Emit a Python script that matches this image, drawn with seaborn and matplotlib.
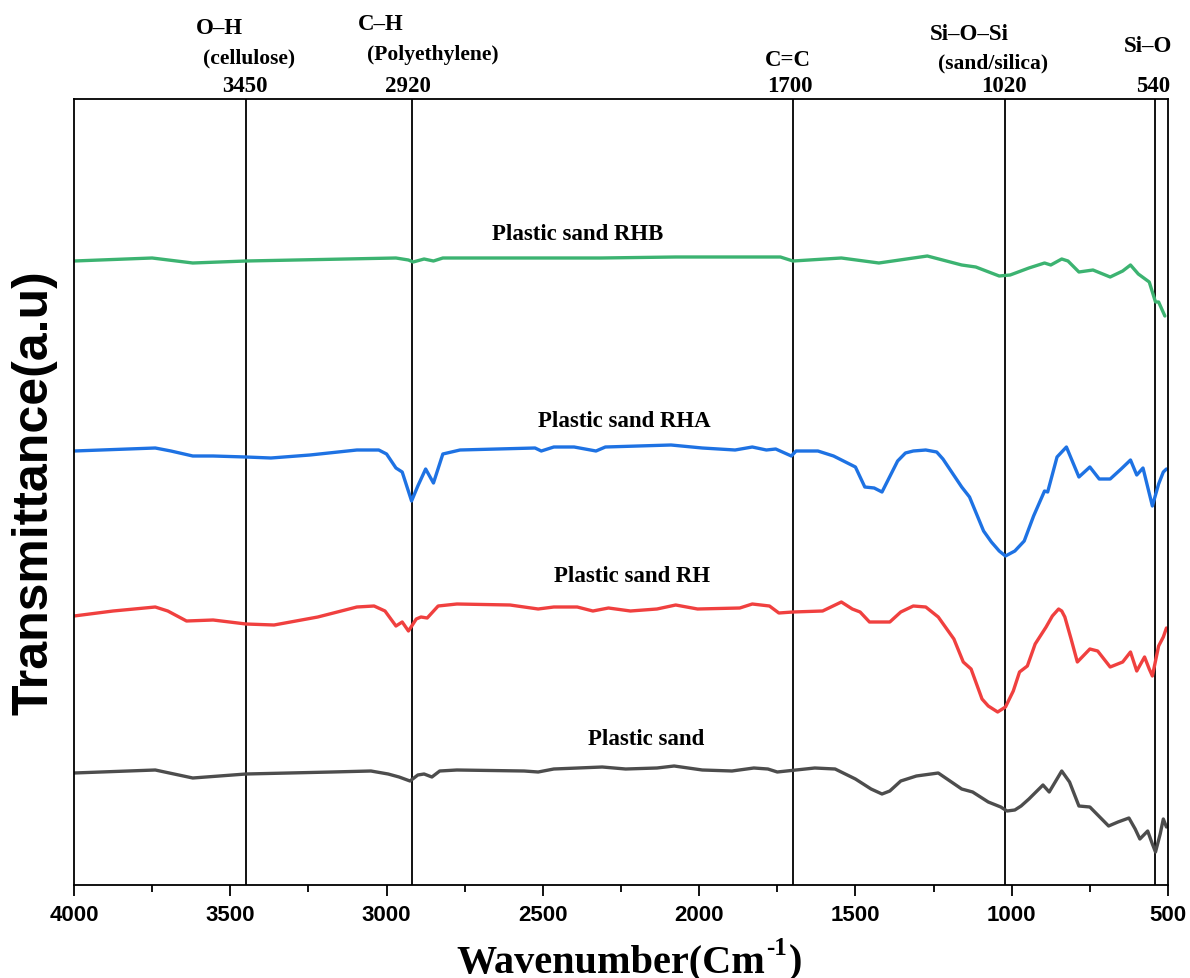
import numpy as np
import pandas as pd
import matplotlib
matplotlib.use("Agg")
import matplotlib.pyplot as plt
import seaborn as sns

# ---------------- data ----------------
rhb_wn = [4000, 3750, 3620, 3450, 2970, 2930, 2915, 2880, 2850, 2820, 2605, 2315, 2075, 1740, 1700,
          1545, 1425, 1270, 1160, 1115, 1040, 1005, 945, 895, 875, 840, 820, 785, 740, 685, 645,
          620, 595, 560, 540, 530, 510]
rhb_t = [624, 627, 622, 624, 627, 625, 623, 626, 624, 627, 627, 627, 628, 628, 624,
         627, 622, 629, 620, 618, 609, 610, 617, 622, 620, 626, 624, 613, 615, 608, 614,
         620, 611, 603, 583, 583, 569]

rha_wn = [4000, 3740, 3690, 3620, 3555, 3450, 3370, 3245, 3095, 3025, 3000, 2970, 2950, 2920, 2900,
          2875, 2850, 2820, 2765, 2525, 2505, 2465, 2400, 2330, 2300, 2090, 1990, 1885, 1830, 1785,
          1755, 1705, 1690, 1620, 1570, 1500, 1470, 1440, 1415, 1365, 1340, 1315, 1275, 1240, 1220,
          1160, 1135, 1090, 1065, 1040, 1020, 990, 960, 930, 895, 885, 855, 825, 785, 750, 720,
          685, 650, 620, 600, 580, 550, 530, 515, 505]
rha_t = [434, 437, 434, 429, 429, 428, 427, 430, 435, 435, 431, 417, 413, 384, 399,
         416, 402, 431, 435, 437, 434, 438, 438, 434, 438, 440, 437, 435, 438, 435,
         436, 429, 434, 434, 429, 418, 398, 397, 393, 424, 432, 434, 435, 433, 426,
         398, 388, 354, 343, 334, 329, 334, 344, 369, 394, 393, 428, 438, 408, 418, 406,
         406, 416, 425, 410, 417, 379, 401, 413, 416]

rh_wn = [4000, 3875, 3740, 3700, 3640, 3555, 3450, 3360, 3220, 3095, 3040, 3005, 2970, 2950, 2930,
         2905, 2890, 2870, 2835, 2775, 2605, 2515, 2465, 2390, 2340, 2290, 2220, 2135, 2075, 2005,
         1870, 1830, 1775, 1745, 1700, 1605, 1545, 1510, 1485, 1455, 1390, 1355, 1315, 1275, 1235,
         1185, 1155, 1130, 1095, 1075, 1045, 1020, 995, 975, 950, 925, 890, 870, 850, 840, 830,
         810, 790, 750, 725, 685, 645, 620, 600, 575, 560, 550, 530, 515, 505]
rh_t = [269, 274, 278, 274, 264, 265, 261, 260, 268, 278, 279, 274, 259, 263, 254,
        266, 268, 267, 279, 281, 280, 276, 278, 278, 274, 277, 274, 276, 280, 276,
        277, 281, 279, 272, 273, 274, 283, 276, 273, 263, 263, 273, 279, 278, 268,
        246, 223, 216, 186, 179, 173, 178, 194, 213, 219, 241, 258, 269, 276, 274, 268,
        246, 223, 236, 234, 218, 223, 233, 214, 228, 216, 209, 239, 248, 257]

ps_wn = [4000, 3740, 3620, 3450, 3175, 3050, 2995, 2960, 2925, 2900, 2880, 2855, 2830, 2775, 2560,
         2515, 2465, 2310, 2235, 2135, 2080, 1990, 1895, 1825, 1780, 1750, 1690, 1630, 1565, 1500,
         1475, 1450, 1415, 1390, 1355, 1305, 1235, 1160, 1125, 1075, 1035, 1015, 990, 970, 945,
         900, 880, 840, 815, 785, 750, 690, 660, 625, 605, 590, 565, 550, 540, 525, 515, 505]
ps_t = [112, 115, 107, 111, 113, 114, 111, 108, 104, 110, 111, 108, 114, 115, 114,
        113, 116, 118, 116, 117, 119, 115, 114, 117, 116, 113, 115, 117, 116, 106,
        101, 96, 91, 94, 104, 109, 112, 96, 93, 83, 78, 74, 75, 79, 86,
        100, 93, 114, 103, 79, 78, 59, 63, 67, 56, 46, 54, 41, 33, 51, 66, 58]

series_names = ["Plastic sand RHB", "Plastic sand RHA", "Plastic sand RH", "Plastic sand"]
series_colors = ["#3cb371", "#1e72e3", "#f0403f", "#4d4d4d"]

peak_positions = [3450, 2920, 1700, 1020, 540]
peak_groups = ["O\u2013H", "C\u2013H", "C=C", "Si\u2013O\u2013Si", "Si\u2013O"]
peak_notes = ["(cellulose)", "(Polyethylene)", "", "(sand/silica)", ""]

x_ticks = [4000, 3500, 3000, 2500, 2000, 1500, 1000, 500]

# ---------------- build long-form frame ----------------
frames = []
for name, wn, t in zip(series_names, [rhb_wn, rha_wn, rh_wn, ps_wn], [rhb_t, rha_t, rh_t, ps_t]):
    frames.append(pd.DataFrame({"wn": wn, "T": t, "sample": name}))
df = pd.concat(frames, ignore_index=True)

# ---------------- figure ----------------
sns.set_style("ticks")
plt.rcParams["font.family"] = ["Liberation Serif", "DejaVu Serif"]
plt.rcParams["text.color"] = "black"
plt.rcParams["axes.labelcolor"] = "black"
plt.rcParams["xtick.color"] = "black"
plt.rcParams["ytick.color"] = "black"
plt.rcParams["axes.edgecolor"] = "black"

W, H = 1190, 979
fig = plt.figure(figsize=(W / 100, H / 100), dpi=100)
ax = fig.add_axes([74 / W, 1 - 886 / H, (1168 - 74) / W, (886 - 100) / H])

sns.lineplot(data=df, x="wn", y="T", hue="sample", palette=dict(zip(series_names, series_colors)),
             hue_order=series_names, estimator=None, sort=True, linewidth=2.4, ax=ax, legend=False)

for p in peak_positions:
    ax.axvline(p, color="black", linewidth=1.3, zorder=1)

ax.set_xlim(4000, 500)
ax.set_ylim(0, 786)
ax.set_yticks([])
ax.set_xticks(x_ticks)
ax.set_xticks(np.arange(3750, 500, -500), minor=True)
ax.tick_params(axis="x", which="major", direction="out", length=8, width=1.3, top=False,
               labelsize=16, pad=6, colors="black")
ax.tick_params(axis="x", which="minor", direction="out", length=5, width=1.3, top=False)
for lab in ax.get_xticklabels():
    lab.set_fontfamily(["Liberation Sans", "DejaVu Sans"])
    lab.set_fontweight("bold")
for s in ax.spines.values():
    s.set_visible(True)
    s.set_linewidth(1.3)
    s.set_color("black")

ax.set_xlabel("")
ax.set_ylabel("Transmittance(a.u)", fontsize=36, fontweight="bold",
              fontfamily=["Liberation Sans", "DejaVu Sans"], labelpad=12)

# x-axis title built from pieces so the superscript is a short hyphen
xl_main = fig.text(456 / W, 1 - 972 / H, "Wavenumber(Cm", fontsize=29, fontweight="bold",
                   ha="left", va="baseline")
xl_sup = ax.annotate("-1", xy=(1, 1), xycoords=xl_main, xytext=(1, 5), textcoords="offset points",
                     fontsize=18, fontweight="bold", ha="left", va="top")
ax.annotate(")", xy=(1, 0), xycoords=(xl_sup, xl_main), xytext=(1, 0), textcoords="offset points",
            fontsize=29, fontweight="bold", ha="left", va="bottom")

# curve labels
label_pos = [(2390, 651), (2240, 464), (2214, 309), (2170, 146)]
for name, (lx, ly) in zip(series_names, label_pos):
    ax.text(lx, ly, name, fontsize=16.5, fontweight="bold", ha="center", va="center")

# peak annotations above the plot (figure pixel positions)
group_xy = [(219, 28), (381, 25), (788, 60), (969, 35), (1148, 47)]
note_xy = [(249, 58), (433, 55), None, (993, 63), None]
num_xy = [245, 408, 790, 1004, 1153]
for g, n, p, gxy, nxy, nx in zip(peak_groups, peak_notes, peak_positions, group_xy, note_xy, num_xy):
    fig.text(gxy[0] / W, 1 - gxy[1] / H, g, fontsize=16.5, fontweight="bold", ha="center", va="center")
    if n and nxy is not None:
        fig.text(nxy[0] / W, 1 - nxy[1] / H, n, fontsize=15.5, fontweight="bold", ha="center", va="center")
    fig.text(nx / W, 1 - 87 / H, str(p), fontsize=16.5, fontweight="bold", ha="center", va="center")

fig.savefig("out.png", dpi=100)
